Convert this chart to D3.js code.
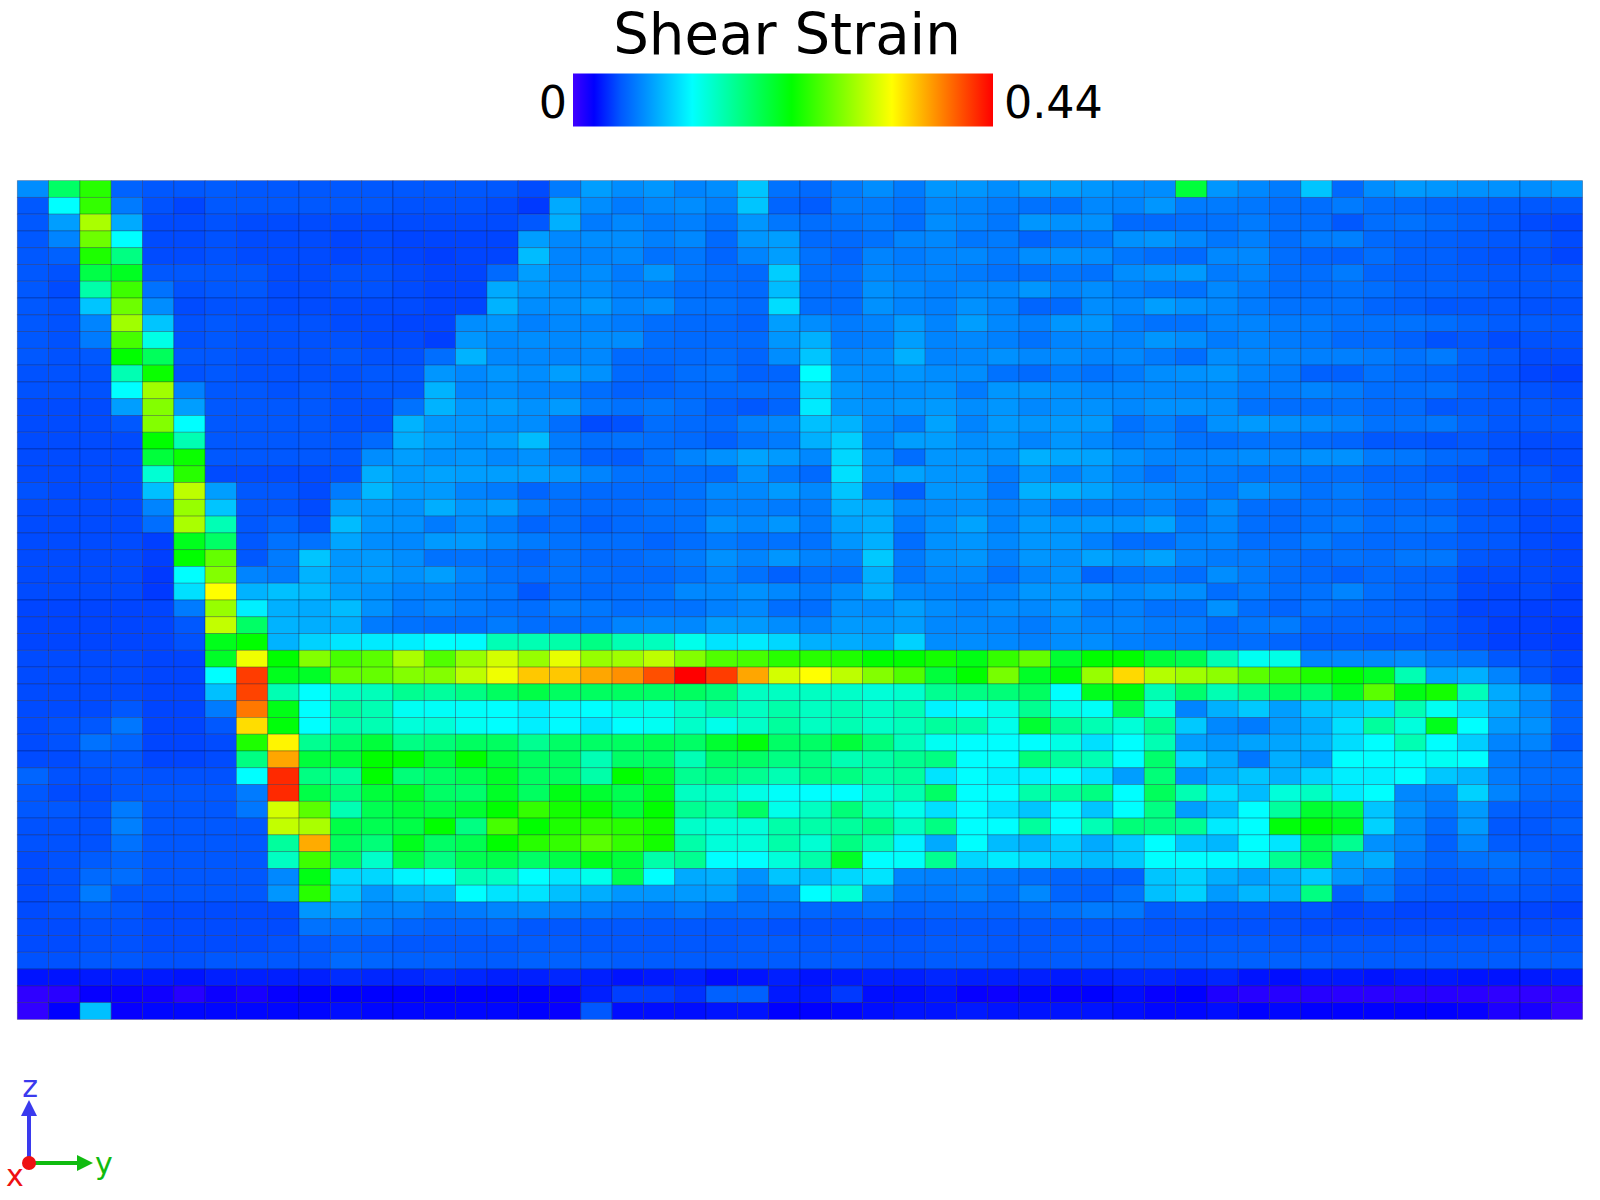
<!DOCTYPE html>
<html><head><meta charset="utf-8">
<script src="https://cdn.jsdelivr.net/npm/d3@7"></script>
<style>html,body{margin:0;padding:0;background:#fff}svg{display:block}text{font-family:"DejaVu Sans",sans-serif}</style>
</head><body><div id="chart"></div>
<script>
// Shear strain per cell, in thousandths (row 0 = top of the section)
const row00=[74,188,245,55,50,50,52,50,50,50,50,50,50,50,50,50,46,66,82,74,78,70,74,99,62,58,66,74,66,78,78,74,82,82,78,74,74,205,78,72,66,99,58,74,80,78,76,76,74,78];
const row01=[50,125,250,66,48,44,50,50,50,50,50,50,48,48,48,46,40,87,74,66,72,74,68,99,56,52,66,66,62,72,70,66,62,62,72,70,78,66,66,64,60,60,66,60,58,56,54,52,50,50];
const row02=[50,82,299,87,46,46,48,46,46,46,46,46,46,46,46,46,50,90,66,72,66,68,62,78,64,60,62,66,60,74,70,64,78,76,76,58,58,60,62,66,60,60,50,60,62,58,54,50,46,44];
const row03=[50,70,274,125,46,46,48,46,46,46,44,46,44,44,44,44,82,72,74,74,68,72,58,78,82,58,58,62,70,72,64,66,56,62,64,76,78,72,64,68,60,66,68,58,56,54,52,50,50,46];
const row04=[50,54,241,176,46,46,48,46,46,46,44,46,44,42,44,44,95,70,70,72,62,64,56,70,82,62,56,70,66,70,72,66,74,76,74,64,60,58,72,72,60,56,54,60,54,54,50,48,48,44];
const row05=[50,48,200,215,50,50,50,50,46,46,48,48,46,44,44,58,82,70,74,66,78,64,60,58,103,60,60,72,68,70,66,62,60,64,62,74,78,80,66,70,60,60,66,56,54,54,52,50,50,50];
const row06=[50,46,160,254,62,48,50,50,46,46,48,48,46,44,44,87,78,74,74,68,66,60,60,58,95,60,60,76,72,68,72,72,78,70,74,68,64,62,72,66,60,60,62,60,56,56,54,50,50,50];
const row07=[50,48,99,274,74,46,48,48,46,46,46,46,46,44,44,91,74,74,80,70,74,62,62,58,110,60,60,76,70,68,76,70,56,58,74,72,82,76,72,66,62,62,62,56,54,50,50,50,48,48];
const row08=[50,48,70,295,99,48,50,48,48,48,46,46,44,44,74,78,68,72,70,66,60,58,58,55,82,74,66,70,80,70,82,72,68,78,78,66,62,62,70,70,66,66,62,62,62,60,56,52,52,50];
const row09=[50,48,66,258,135,48,50,48,48,48,48,46,46,42,78,72,74,72,74,74,60,58,58,58,78,90,66,68,82,70,72,68,62,70,72,70,78,74,66,70,66,64,58,58,54,48,50,46,48,48];
const row10=[50,48,50,229,192,50,50,48,48,48,50,48,48,60,91,72,72,70,72,58,58,58,60,56,74,99,72,74,90,70,72,76,72,74,70,72,66,60,74,72,70,68,68,66,62,66,54,50,46,46];
const row11=[48,48,48,156,233,48,50,48,48,48,48,50,50,78,72,78,74,82,76,58,56,60,62,54,56,125,76,74,78,74,74,62,58,66,62,66,74,76,78,70,66,54,54,62,58,56,52,48,44,42];
const row12=[48,48,48,125,295,68,50,50,48,50,48,50,50,91,70,74,70,68,60,54,56,58,58,60,60,107,78,74,74,76,66,78,78,76,72,72,72,70,72,66,66,70,66,60,60,62,54,50,48,46];
const row13=[46,46,46,82,283,82,50,50,50,50,48,48,62,91,78,82,76,80,66,62,64,60,54,50,56,116,78,76,78,80,74,78,72,76,76,72,76,76,74,62,60,60,62,58,58,50,52,50,50,48];
const row14=[46,46,46,50,283,125,50,50,50,50,48,48,91,78,78,74,74,60,46,48,60,58,58,68,72,97,91,74,66,84,70,80,78,80,80,62,68,60,76,80,76,74,70,62,62,64,56,50,50,50];
const row15=[46,46,46,46,229,156,50,50,50,50,50,58,89,82,76,82,95,66,60,62,60,58,54,62,66,90,103,72,82,82,74,78,70,78,72,66,70,62,60,62,62,58,56,50,50,48,50,48,46,46];
const row16=[46,46,46,46,205,233,50,50,50,50,50,74,82,76,78,72,76,66,54,52,62,70,76,84,80,72,107,78,60,78,78,76,90,86,84,76,70,70,72,74,72,76,76,66,64,58,56,48,46,46];
const row17=[46,46,46,46,143,245,46,46,46,46,48,89,80,84,82,82,82,78,70,62,62,60,58,76,64,58,111,78,84,78,78,66,78,70,78,70,62,68,66,62,62,60,60,56,56,52,48,50,50,46];
const row18=[48,46,46,46,97,307,82,50,50,46,66,93,80,80,70,66,56,62,58,58,58,62,72,72,80,72,99,66,54,78,78,64,90,90,84,76,74,70,64,76,70,62,66,60,58,62,52,50,50,50];
const row19=[46,46,46,46,70,291,99,50,50,46,82,78,76,89,78,82,66,60,58,58,62,62,68,68,66,66,90,87,72,74,76,70,74,66,66,66,70,62,74,60,58,62,62,58,58,56,50,48,46,46];
const row20=[46,46,46,46,60,299,155,50,56,48,95,78,76,66,74,66,56,60,54,58,60,62,76,72,78,66,84,89,66,76,84,70,80,78,80,78,84,66,72,60,58,62,66,60,62,62,52,50,46,46];
const row21=[46,46,46,46,42,217,188,50,62,62,85,74,72,80,80,72,66,62,60,60,56,60,66,62,62,62,78,90,60,76,78,72,78,78,68,60,60,68,70,60,60,66,60,58,58,56,52,50,46,44];
const row22=[46,46,46,46,42,229,270,50,66,99,78,80,74,62,62,60,56,62,58,58,62,66,76,70,78,70,68,101,66,76,78,68,78,76,84,78,84,70,66,66,62,58,62,60,64,64,50,48,46,44];
const row23=[46,46,46,46,40,125,283,70,66,91,80,82,76,82,70,62,60,62,60,58,58,62,70,62,54,60,60,90,64,72,72,62,70,76,56,62,64,60,74,66,60,58,54,58,56,54,46,46,46,44];
const row24=[46,46,46,46,40,111,334,91,97,95,82,76,70,70,66,64,50,60,58,60,62,72,72,76,72,66,74,90,72,70,68,70,78,78,78,72,76,74,60,66,60,62,70,60,56,56,46,44,46,42];
const row25=[44,44,44,44,44,66,291,118,90,87,95,76,66,70,66,62,60,66,64,60,62,62,68,72,60,60,76,74,82,74,70,74,72,78,66,68,62,62,76,60,56,62,58,56,54,50,44,44,42,42];
const row26=[44,44,44,44,44,50,309,188,91,89,90,66,62,60,60,66,60,60,62,70,72,72,82,80,74,70,80,80,82,72,72,70,66,74,70,70,66,66,58,64,66,56,56,56,56,50,46,42,42,40];
const row27=[44,44,44,44,44,48,218,229,91,105,114,116,118,125,123,155,156,160,175,156,152,133,113,116,107,90,88,84,105,74,74,72,68,74,74,68,66,64,60,60,56,52,52,50,50,50,46,42,42,40];
const row28=[46,46,46,46,44,44,213,328,229,283,258,266,299,262,291,316,291,324,291,295,307,283,262,258,245,245,241,229,229,237,221,250,270,209,229,229,205,196,156,130,135,70,72,72,74,66,62,50,48,44];
const row29=[46,46,46,46,44,44,125,415,217,213,270,270,283,283,307,328,357,357,371,380,407,440,415,371,316,334,307,283,262,205,229,278,213,225,291,350,303,295,287,266,254,241,229,215,156,85,90,70,50,44];
const row30=[46,46,46,46,44,44,97,412,156,125,150,153,170,165,175,190,200,190,190,190,188,190,180,150,150,150,147,141,145,170,175,180,190,125,217,225,156,185,156,175,192,185,213,266,221,237,153,87,76,54];
const row31=[46,46,46,50,44,44,66,390,220,125,165,156,130,128,127,125,118,123,125,135,133,147,160,150,160,150,155,147,155,120,125,135,170,135,128,196,139,70,90,101,82,99,103,110,156,130,110,87,72,54];
const row32=[46,48,50,64,44,44,50,348,225,125,156,156,140,141,130,125,118,123,114,125,130,147,133,147,165,150,156,147,153,165,160,133,209,170,156,141,170,101,72,66,80,89,111,165,139,218,125,80,76,54];
const row33=[46,48,62,56,44,44,46,241,338,170,188,205,175,180,190,190,170,188,188,190,196,188,209,225,188,188,205,180,153,130,125,125,125,135,111,125,156,82,78,84,85,92,110,125,156,125,103,70,70,50];
const row34=[46,46,50,50,44,44,46,176,371,205,205,229,229,205,229,205,190,190,155,188,188,155,188,188,176,176,156,160,170,176,125,125,180,165,156,125,185,105,87,64,89,82,125,125,125,130,125,66,60,58];
const row35=[56,48,48,50,48,48,48,125,423,176,165,229,180,188,196,213,190,190,160,229,209,170,176,170,156,176,176,160,165,113,125,118,118,125,111,82,180,76,89,99,90,105,118,118,125,100,92,66,60,58];
const row36=[50,46,46,50,50,50,50,66,423,200,180,205,213,188,185,213,190,221,209,196,217,150,147,135,127,125,125,143,156,188,125,125,160,165,176,125,192,156,110,95,140,150,116,125,72,70,105,70,58,56];
const row37=[50,50,48,66,50,50,50,64,316,266,156,196,205,200,209,229,250,237,233,205,229,170,160,188,133,150,180,150,133,111,125,111,99,123,99,125,176,82,95,125,165,209,200,99,76,64,80,54,52,52];
const row38=[48,48,48,68,50,50,50,50,309,299,200,196,200,229,176,258,229,241,250,245,237,147,140,140,160,160,165,176,150,176,125,125,165,125,155,180,176,170,116,125,225,229,217,105,72,58,80,50,50,54];
const row39=[48,48,48,62,50,50,50,50,165,369,192,180,217,188,196,229,245,250,266,250,237,160,140,140,160,143,176,155,120,87,125,95,89,103,87,101,125,99,93,125,114,196,170,76,70,54,72,52,50,50];
const row40=[46,48,52,56,50,50,50,50,150,254,188,147,200,176,196,200,188,200,217,205,160,170,125,125,140,160,213,125,127,170,107,116,110,101,95,101,125,125,125,130,170,192,82,89,64,56,62,62,56,50];
const row41=[46,48,58,60,50,50,50,50,72,221,107,107,120,125,155,150,125,114,133,196,125,87,90,76,99,95,107,113,70,68,68,64,60,56,56,54,99,105,89,82,89,101,78,68,56,50,52,56,52,50];
const row42=[46,48,66,50,50,50,50,50,78,245,99,78,89,93,125,113,113,97,89,78,78,80,82,66,72,125,141,80,64,64,68,62,72,56,54,62,97,105,80,93,87,176,54,66,52,50,50,52,50,48];
const row43=[46,48,52,50,46,46,46,46,46,78,82,70,70,64,66,70,72,68,66,62,60,64,58,60,58,56,54,58,54,56,56,56,58,62,66,64,52,54,50,50,48,48,44,46,44,44,44,44,44,42];
const row44=[46,46,48,48,46,46,46,46,46,62,62,62,56,54,54,56,50,50,50,50,50,50,50,50,48,48,48,48,48,50,50,50,50,50,50,50,48,48,48,48,48,46,46,46,46,46,46,46,46,46];
const row45=[46,46,48,48,46,46,46,46,48,50,54,52,50,50,50,50,52,52,50,50,50,50,50,52,52,50,50,50,50,52,52,50,50,52,52,50,50,50,52,52,50,50,50,50,50,50,50,50,50,48];
const row46=[48,48,50,50,48,48,50,50,50,50,58,56,54,54,52,52,54,54,54,52,52,52,52,52,52,52,52,50,50,52,52,50,50,52,52,52,52,52,54,54,54,54,52,52,52,52,52,52,52,52];
const row47=[28,28,30,30,30,28,32,32,32,32,36,34,34,36,34,32,32,34,32,28,30,32,26,28,32,28,30,32,32,34,32,32,32,30,32,34,34,32,34,28,26,30,30,28,30,30,28,28,30,32];
const row48=[6,8,20,19,17,9,18,14,20,22,22,22,22,22,22,22,22,20,32,42,42,38,54,54,30,30,40,26,26,28,20,18,24,20,22,26,20,22,12,9,9,9,8,8,8,9,8,6,6,6];
const row49=[5,22,97,20,24,24,24,24,24,24,26,24,24,24,24,24,22,20,50,26,26,26,28,28,22,22,24,26,28,28,30,28,28,28,28,26,24,24,26,22,24,22,22,22,22,22,20,12,14,4];
const rows=[row00,row01,row02,row03,row04,row05,row06,row07,row08,row09,row10,row11,row12,row13,row14,row15,row16,row17,row18,row19,row20,row21,row22,row23,row24,row25,row26,row27,row28,row29,row30,row31,row32,row33,row34,row35,row36,row37,row38,row39,row40,row41,row42,row43,row44,row45,row46,row47,row48,row49];
const titleText="Shear Strain";
const legendLabels=["0","0.44"];
const colorValues=[0,22,50,80,125,229,334,440];
const colorNames=["#4000ff","#0000ff","#0058ff","#009aff","#00ffff","#00ff00","#ffff00","#ff0000"];

const svg=d3.select("#chart").append("svg").attr("width",1600).attr("height",1200);
const color=d3.scaleLinear().domain(colorValues).range(colorNames).clamp(true);
const x=d3.scaleBand().domain(d3.range(rows[0].length)).range([17.3,1582.6]);
const y=d3.scaleBand().domain(d3.range(rows.length)).range([180.6,1019.4]);

// heat map
const cells=rows.flatMap((r,i)=>r.map((v,j)=>({i,j,v})));
svg.append("g").selectAll("rect").data(cells).join("rect")
  .attr("x",d=>x(d.j)).attr("y",d=>y(d.i))
  .attr("width",x.bandwidth()).attr("height",y.bandwidth())
  .attr("fill",d=>color(d.v))
  .attr("stroke","rgba(0,0,40,0.32)").attr("stroke-width",0.8);

// title and colour bar
svg.append("text").attr("x",787).attr("y",54).attr("text-anchor","middle")
  .attr("font-size",56.2).attr("fill","#000").text(titleText);
const defs=svg.append("defs");
const grad=defs.append("linearGradient").attr("id","bar");
colorValues.forEach((v,i)=>grad.append("stop")
  .attr("offset",v/440).attr("stop-color",colorNames[i]));
const bar=d3.scaleLinear().domain([0,440]).range([573,993]);
svg.append("rect").attr("x",bar(0)).attr("y",73.5).attr("width",bar(440)-bar(0)).attr("height",53).attr("fill","url(#bar)");
svg.append("text").attr("x",bar(0)-6).attr("y",118).attr("text-anchor","end").attr("font-size",44.4).text(legendLabels[0]);
svg.append("text").attr("x",bar(440)+11).attr("y",118).attr("text-anchor","start").attr("font-size",44.4).text(legendLabels[1]);

// orientation triad
const o={x:29,y:1163};
const triad=svg.append("g");
triad.append("line").attr("x1",o.x).attr("y1",o.y).attr("x2",o.x).attr("y2",1112).attr("stroke","#3a3aee").attr("stroke-width",4);
triad.append("path").attr("d",`M${o.x},1100L${o.x+8},1116L${o.x-8},1116Z`).attr("fill","#3a3aee");
triad.append("line").attr("x1",o.x).attr("y1",o.y).attr("x2",80).attr("y2",o.y).attr("stroke","#10bb10").attr("stroke-width",4);
triad.append("path").attr("d",`M93,${o.y}L77,${o.y-8}L77,${o.y+8}Z`).attr("fill","#10bb10");
triad.append("circle").attr("cx",o.x).attr("cy",o.y).attr("r",7).attr("fill","#ee1111");
triad.append("text").attr("x",o.x+1).attr("y",1097).attr("text-anchor","middle").attr("font-size",30).attr("fill","#3a3aee").text("z");
triad.append("text").attr("x",95).attr("y",1174).attr("font-size",30).attr("fill","#10bb10").text("y");
triad.append("text").attr("x",15).attr("y",1186).attr("text-anchor","middle").attr("font-size",30).attr("fill","#ee1111").text("x");
</script></body></html>
